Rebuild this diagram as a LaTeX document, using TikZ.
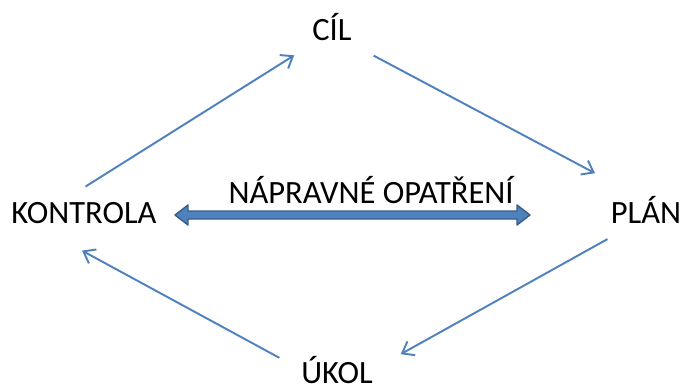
\documentclass[tikz,border=0pt]{standalone}
\usepackage{fontspec}
\setmainfont{Carlito}
\usetikzlibrary{arrows.meta}
\usetikzlibrary{calc}
\definecolor{cyclearrow}{RGB}{79,129,189}
\definecolor{bardark}{RGB}{56,93,138}

\begin{document}
\begin{tikzpicture}[x=0.02cm, y=-0.02cm,
    word/.style={anchor=base, inner xsep=0pt, inner ysep=8pt, font=\fontsize{18.5}{20}\selectfont},
    cycle arrow/.style={draw=cyclearrow, line width=1.1pt, -{Straight Barb[length=6pt, width=9pt]}}]

    \useasboundingbox (0,0) rectangle (681,389);

    \node[word, inner ysep=2pt] (cil) at (332, 40) {CÍL};
    \node[word] (plan) at (646, 223) {PLÁN};
    \node[word] (ukol) at (337, 383) {ÚKOL};
    \node[word] (kontrola) at (84, 223) {KONTROLA};
    \node[word] (naprava) at (371, 203) {NÁPRAVNÉ OPATŘENÍ};

    % cycle
    \draw[cycle arrow, shorten <=1pt, shorten >=12pt] (kontrola.north) -- (cil.south west);
    \draw[cycle arrow, shorten <=14pt, shorten >=10pt] (cil.south east) -- (plan.north west);
    \draw[cycle arrow, shorten <=2pt, shorten >=18pt] (plan.south west) -- (ukol.east);
    \draw[cycle arrow, shorten <=14pt] (ukol.west) -- ($(kontrola.south)+(-2,13)$);

    % double arrow under the label
    \coordinate (la) at (175, 215);
    \coordinate (ra) at (530, 215);
    \filldraw[fill=cyclearrow, draw=bardark, line width=0.8pt, line join=round]
        (la) -- ++(13,-10) -- ++(0,6) -- ($(ra)+(-13,-4)$) -- ++(0,-6) -- (ra)
        -- ++(-13,10) -- ++(0,-6) -- ($(la)+(13,4)$) -- ++(0,6) -- cycle;

\end{tikzpicture}
\end{document}
